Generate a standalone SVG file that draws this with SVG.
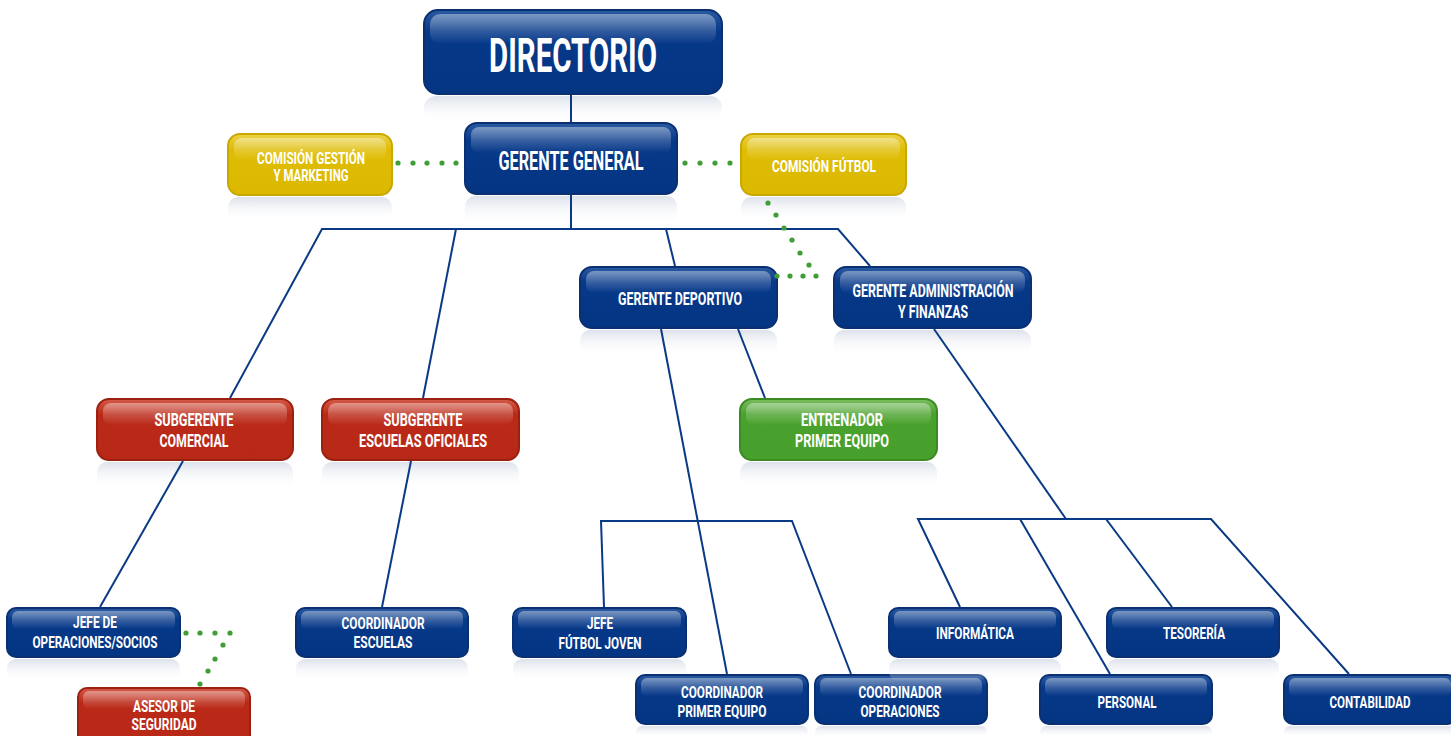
<svg xmlns="http://www.w3.org/2000/svg" width="1451" height="736" viewBox="0 0 1451 736">
<defs>
<linearGradient id="gBlue" x1="0" y1="0" x2="0" y2="1"><stop offset="0" stop-color="#2a5aa0"/><stop offset="0.25" stop-color="#07398a"/><stop offset="1" stop-color="#033582"/></linearGradient>
<linearGradient id="gRed" x1="0" y1="0" x2="0" y2="1"><stop offset="0" stop-color="#d65a48"/><stop offset="0.25" stop-color="#bb2a18"/><stop offset="1" stop-color="#b82816"/></linearGradient>
<linearGradient id="gYel" x1="0" y1="0" x2="0" y2="1"><stop offset="0" stop-color="#ecd24a"/><stop offset="0.25" stop-color="#dfbd05"/><stop offset="1" stop-color="#dcb900"/></linearGradient>
<linearGradient id="gGrn" x1="0" y1="0" x2="0" y2="1"><stop offset="0" stop-color="#79bd5e"/><stop offset="0.25" stop-color="#4aa22e"/><stop offset="1" stop-color="#47a02b"/></linearGradient>
<linearGradient id="gGloss" x1="0" y1="0" x2="0" y2="1"><stop offset="0" stop-color="#ffffff" stop-opacity="0.4"/><stop offset="1" stop-color="#ffffff" stop-opacity="0"/></linearGradient>
<linearGradient id="gRefl" x1="0" y1="0" x2="0" y2="1"><stop offset="0" stop-color="#d9dee8" stop-opacity="0.9"/><stop offset="1" stop-color="#ffffff" stop-opacity="0"/></linearGradient>
</defs>
<style>
.b{fill:url(#gBlue);stroke:#0a3072;stroke-width:2}
.r{fill:url(#gRed);stroke:#9c2010;stroke-width:2}
.y{fill:url(#gYel);stroke:#c9a800;stroke-width:2}
.g{fill:url(#gGrn);stroke:#3c8a22;stroke-width:2}
.gl{fill:url(#gGloss)}
.rf{fill:url(#gRefl)}
text{font-family:Roboto,"Liberation Sans",sans-serif;font-weight:bold;fill:#ffffff;text-anchor:middle}
.t1{font-size:48px}
.t2{font-size:25px}
.t3{font-size:18px}
.t4{font-size:16px}
.ln{fill:none;stroke:#0a3a86;stroke-width:2}
.dot{fill:#3f9e35}
</style>

<g id="directorio">
<rect class="rf" x="424" y="96" width="298" height="26" rx="12"/>
<rect class="b" x="424" y="10" width="298" height="84" rx="14"/>
<rect class="gl" x="430" y="14" width="286" height="30" rx="10"/>
<text class="t1" x="573" y="72" textLength="168" lengthAdjust="spacingAndGlyphs">DIRECTORIO</text>
</g>

<g id="gerente-general">
<rect class="rf" x="465" y="196" width="212" height="28" rx="10"/>
<rect class="b" x="465" y="123" width="212" height="71" rx="12"/>
<rect class="gl" x="471" y="127" width="200" height="26" rx="8"/>
<text class="t2" x="571" y="170" textLength="145" lengthAdjust="spacingAndGlyphs">GERENTE GENERAL</text>
</g>

<g id="comision-gestion">
<rect class="rf" x="228" y="197" width="164" height="24" rx="10"/>
<rect class="y" x="228" y="134" width="164" height="61" rx="12"/>
<rect class="gl" x="234" y="138" width="152" height="22" rx="8"/>
<text class="t4" x="311" y="164" textLength="108" lengthAdjust="spacingAndGlyphs">COMISIÓN GESTIÓN</text>
<text class="t4" x="311" y="181" textLength="75" lengthAdjust="spacingAndGlyphs">Y MARKETING</text>
</g>

<g id="comision-futbol">
<rect class="rf" x="741" y="197" width="165" height="24" rx="10"/>
<rect class="y" x="741" y="134" width="165" height="61" rx="12"/>
<rect class="gl" x="747" y="138" width="153" height="22" rx="8"/>
<text class="t4" x="824" y="172" textLength="104" lengthAdjust="spacingAndGlyphs">COMISIÓN FÚTBOL</text>
</g>

<g id="gerente-deportivo">
<rect class="rf" x="580" y="330" width="197" height="26" rx="10"/>
<rect class="b" x="580" y="267" width="197" height="61" rx="12"/>
<rect class="gl" x="586" y="271" width="185" height="22" rx="8"/>
<text class="t3" x="680" y="305" textLength="124" lengthAdjust="spacingAndGlyphs">GERENTE DEPORTIVO</text>
</g>

<g id="gerente-administracion">
<rect class="rf" x="834" y="330" width="197" height="26" rx="10"/>
<rect class="b" x="834" y="267" width="197" height="61" rx="12"/>
<rect class="gl" x="840" y="271" width="185" height="22" rx="8"/>
<text class="t3" x="933" y="297" textLength="161" lengthAdjust="spacingAndGlyphs">GERENTE ADMINISTRACIÓN</text>
<text class="t3" x="933" y="318" textLength="70" lengthAdjust="spacingAndGlyphs">Y FINANZAS</text>
</g>

<g id="subgerente-comercial">
<rect class="rf" x="97" y="462" width="196" height="26" rx="10"/>
<rect class="r" x="97" y="399" width="196" height="61" rx="12"/>
<rect class="gl" x="103" y="403" width="184" height="22" rx="8"/>
<text class="t3" x="194" y="426" textLength="79" lengthAdjust="spacingAndGlyphs">SUBGERENTE</text>
<text class="t3" x="194" y="447" textLength="69" lengthAdjust="spacingAndGlyphs">COMERCIAL</text>
</g>

<g id="subgerente-escuelas">
<rect class="rf" x="322" y="462" width="197" height="26" rx="10"/>
<rect class="r" x="322" y="399" width="197" height="61" rx="12"/>
<rect class="gl" x="328" y="403" width="185" height="22" rx="8"/>
<text class="t3" x="423" y="426" textLength="79" lengthAdjust="spacingAndGlyphs">SUBGERENTE</text>
<text class="t3" x="423" y="447" textLength="128" lengthAdjust="spacingAndGlyphs">ESCUELAS OFICIALES</text>
</g>

<g id="entrenador">
<rect class="rf" x="740" y="462" width="197" height="26" rx="10"/>
<rect class="g" x="740" y="399" width="197" height="61" rx="12"/>
<rect class="gl" x="746" y="403" width="185" height="22" rx="8"/>
<text class="t3" x="842" y="426" textLength="82" lengthAdjust="spacingAndGlyphs">ENTRENADOR</text>
<text class="t3" x="842" y="447" textLength="94" lengthAdjust="spacingAndGlyphs">PRIMER EQUIPO</text>
</g>

<g id="jefe-operaciones">
<rect class="rf" x="7" y="659" width="173" height="22" rx="9"/>
<rect class="b" x="7" y="608" width="173" height="49" rx="9"/>
<rect class="gl" x="12" y="611" width="163" height="18" rx="6"/>
<text class="t4" x="95" y="628" textLength="44" lengthAdjust="spacingAndGlyphs">JEFE DE</text>
<text class="t4" x="95" y="648" textLength="125" lengthAdjust="spacingAndGlyphs">OPERACIONES/SOCIOS</text>
</g>

<g id="asesor-seguridad">
<rect class="r" x="78" y="688" width="172" height="56" rx="9"/>
<rect class="gl" x="83" y="691" width="162" height="18" rx="6"/>
<text class="t4" x="164" y="712" textLength="62" lengthAdjust="spacingAndGlyphs">ASESOR DE</text>
<text class="t4" x="164" y="730" textLength="65" lengthAdjust="spacingAndGlyphs">SEGURIDAD</text>
</g>

<g id="coordinador-escuelas">
<rect class="rf" x="296" y="659" width="172" height="22" rx="9"/>
<rect class="b" x="296" y="608" width="172" height="49" rx="9"/>
<rect class="gl" x="301" y="611" width="162" height="18" rx="6"/>
<text class="t4" x="383" y="629" textLength="83" lengthAdjust="spacingAndGlyphs">COORDINADOR</text>
<text class="t4" x="383" y="648" textLength="59" lengthAdjust="spacingAndGlyphs">ESCUELAS</text>
</g>

<g id="jefe-futbol-joven">
<rect class="rf" x="513" y="659" width="173" height="22" rx="9"/>
<rect class="b" x="513" y="608" width="173" height="49" rx="9"/>
<rect class="gl" x="518" y="611" width="163" height="18" rx="6"/>
<text class="t4" x="600" y="629" textLength="26" lengthAdjust="spacingAndGlyphs">JEFE</text>
<text class="t4" x="600" y="649" textLength="83" lengthAdjust="spacingAndGlyphs">FÚTBOL JOVEN</text>
</g>

<g id="coordinador-primer-equipo">
<rect class="rf" x="636" y="726" width="172" height="12" rx="6"/>
<rect class="b" x="636" y="675" width="172" height="49" rx="9"/>
<rect class="gl" x="641" y="678" width="162" height="18" rx="6"/>
<text class="t4" x="722" y="698" textLength="82" lengthAdjust="spacingAndGlyphs">COORDINADOR</text>
<text class="t4" x="722" y="717" textLength="89" lengthAdjust="spacingAndGlyphs">PRIMER EQUIPO</text>
</g>

<g id="coordinador-operaciones">
<rect class="rf" x="815" y="726" width="172" height="12" rx="6"/>
<rect class="b" x="815" y="675" width="172" height="49" rx="9"/>
<rect class="gl" x="820" y="678" width="162" height="18" rx="6"/>
<text class="t4" x="900" y="698" textLength="83" lengthAdjust="spacingAndGlyphs">COORDINADOR</text>
<text class="t4" x="900" y="717" textLength="79" lengthAdjust="spacingAndGlyphs">OPERACIONES</text>
</g>

<g id="informatica">
<rect class="rf" x="889" y="659" width="172" height="22" rx="9"/>
<rect class="b" x="889" y="608" width="172" height="49" rx="9"/>
<rect class="gl" x="894" y="611" width="162" height="18" rx="6"/>
<text class="t4" x="975" y="639" textLength="78" lengthAdjust="spacingAndGlyphs">INFORMÁTICA</text>
</g>

<g id="tesoreria">
<rect class="rf" x="1107" y="659" width="172" height="22" rx="9"/>
<rect class="b" x="1107" y="608" width="172" height="49" rx="9"/>
<rect class="gl" x="1112" y="611" width="162" height="18" rx="6"/>
<text class="t4" x="1194" y="639" textLength="62" lengthAdjust="spacingAndGlyphs">TESORERÍA</text>
</g>

<g id="personal">
<rect class="rf" x="1040" y="726" width="172" height="12" rx="6"/>
<rect class="b" x="1040" y="675" width="172" height="49" rx="9"/>
<rect class="gl" x="1045" y="678" width="162" height="18" rx="6"/>
<text class="t4" x="1127" y="708" textLength="59" lengthAdjust="spacingAndGlyphs">PERSONAL</text>
</g>

<g id="contabilidad">
<rect class="rf" x="1284" y="726" width="172" height="12" rx="6"/>
<rect class="b" x="1284" y="675" width="172" height="49" rx="9"/>
<rect class="gl" x="1289" y="678" width="162" height="18" rx="6"/>
<text class="t4" x="1370" y="708" textLength="81" lengthAdjust="spacingAndGlyphs">CONTABILIDAD</text>
</g>

<g id="connectors">
<polyline class="ln" points="571,95 571,122"/>
<polyline class="ln" points="571,195 571,229"/>
<polyline class="ln" points="230,398 322,229 838,229 870,266"/>
<polyline class="ln" points="456,229 423,398"/>
<polyline class="ln" points="666,229 675,266"/>
<polyline class="ln" points="661,329 727,674"/>
<polyline class="ln" points="738,329 765,398"/>
<polyline class="ln" points="604,607 601,521 792,521 851,674"/>
<polyline class="ln" points="934,329 1066,519"/>
<polyline class="ln" points="960,607 918,519 1211,519 1349,674"/>
<polyline class="ln" points="1020,519 1110,674"/>
<polyline class="ln" points="1106,519 1172,607"/>
<polyline class="ln" points="183,461 100,607"/>
<polyline class="ln" points="411,461 382,607"/>
<g class="dot">
<circle cx="398" cy="163" r="2.6"/><circle cx="413" cy="163" r="2.6"/><circle cx="427" cy="163" r="2.6"/><circle cx="442" cy="163" r="2.6"/><circle cx="456" cy="163" r="2.6"/>
<circle cx="685" cy="163" r="2.6"/><circle cx="700" cy="163" r="2.6"/><circle cx="715" cy="163" r="2.6"/><circle cx="730" cy="163" r="2.6"/>
<circle cx="768" cy="203" r="2.6"/><circle cx="776" cy="215" r="2.6"/><circle cx="784" cy="228" r="2.6"/><circle cx="792" cy="240" r="2.6"/><circle cx="800" cy="253" r="2.6"/><circle cx="809" cy="265" r="2.6"/><circle cx="816" cy="276" r="2.6"/><circle cx="803" cy="276" r="2.6"/><circle cx="790" cy="276" r="2.6"/><circle cx="777" cy="276" r="2.6"/>
<circle cx="186" cy="633" r="2.6"/><circle cx="200" cy="633" r="2.6"/><circle cx="215" cy="633" r="2.6"/><circle cx="230" cy="633" r="2.6"/><circle cx="223" cy="645" r="2.6"/><circle cx="215" cy="659" r="2.6"/><circle cx="208" cy="671" r="2.6"/><circle cx="200" cy="684" r="2.6"/>
</g>
</g>
</svg>
